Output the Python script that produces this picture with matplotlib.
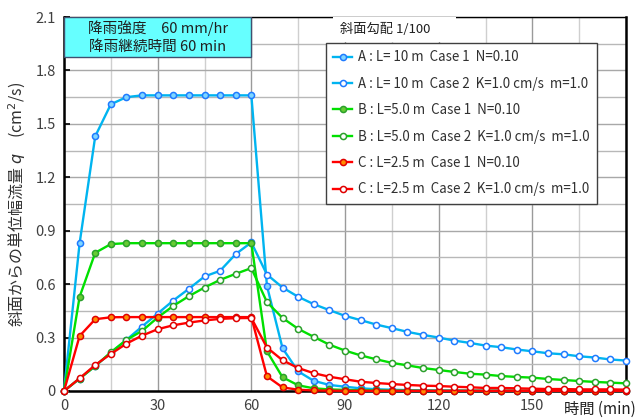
import numpy as np
import matplotlib
matplotlib.use("Agg")
import matplotlib.pyplot as plt
from matplotlib.patches import Rectangle
from matplotlib.ticker import MultipleLocator

plt.rcParams['font.family'] = ['Noto Sans CJK JP', 'DejaVu Sans']
plt.rcParams['mathtext.fontset'] = 'dejavusans'

# ---- data ----
time_min = np.arange(0, 181, 5)

A_case1 = [0.00, 0.83, 1.43, 1.61, 1.65, 1.66, 1.66, 1.66, 1.66, 1.66, 1.66, 1.66, 1.66,
           0.59, 0.24, 0.11, 0.057, 0.034, 0.024, 0.015, 0.010, 0.007, 0.005, 0.004, 0.003,
           0.003, 0.002, 0.002, 0.002, 0.001, 0.001, 0.001, 0.001, 0.001, 0.001, 0.001, 0.001]
A_case2 = [0.00, 0.07, 0.14, 0.215, 0.287, 0.362, 0.435, 0.508, 0.574, 0.643, 0.675, 0.769, 0.834,
           0.654, 0.581, 0.529, 0.4875, 0.454, 0.422, 0.398, 0.373, 0.353, 0.332, 0.315, 0.300,
           0.283, 0.270, 0.255, 0.246, 0.233, 0.223, 0.212, 0.206, 0.195, 0.188, 0.177, 0.171]
B_case1 = [0.00, 0.529, 0.776, 0.825, 0.83, 0.83, 0.83, 0.83, 0.83, 0.83, 0.83, 0.83, 0.83,
           0.223, 0.077, 0.032, 0.015, 0.009, 0.006, 0.004, 0.003, 0.002, 0.002, 0.001, 0.001,
           0.001, 0.001, 0.001, 0.001, 0.001, 0.001, 0.001, 0.001, 0.001, 0.001, 0.001, 0.001]
B_case2 = [0.00, 0.07, 0.14, 0.2175, 0.287, 0.3375, 0.4125, 0.478, 0.5325, 0.581, 0.624, 0.658, 0.69,
           0.499, 0.41, 0.349, 0.304, 0.26, 0.227, 0.200, 0.178, 0.158, 0.144, 0.129, 0.118,
           0.107, 0.097, 0.092, 0.084, 0.079, 0.075, 0.0675, 0.062, 0.056, 0.051, 0.047, 0.043]
C_case1 = [0.00, 0.309, 0.403, 0.414, 0.415, 0.415, 0.415, 0.415, 0.415, 0.415, 0.415, 0.415, 0.415,
           0.0825, 0.020, 0.0075, 0.003, 0.002, 0.001, 0.001, 0.001, 0.001, 0.001, 0.001, 0.001,
           0.001, 0.001, 0.001, 0.001, 0.001, 0.001, 0.001, 0.001, 0.001, 0.001, 0.001, 0.001]
C_case2 = [0.00, 0.071, 0.146, 0.208, 0.266, 0.311, 0.347, 0.369, 0.384, 0.396, 0.405, 0.409, 0.41,
           0.244, 0.1725, 0.129, 0.100, 0.080, 0.066, 0.052, 0.045, 0.039, 0.034, 0.030, 0.028,
           0.024, 0.021, 0.017, 0.017, 0.015, 0.013, 0.011, 0.011, 0.009, 0.009, 0.009, 0.0075]

labels = ["A : L= 10 m  Case 1  N=0.10",
          "A : L= 10 m  Case 2  K=1.0 cm/s  m=1.0",
          "B : L=5.0 m  Case 1  N=0.10",
          "B : L=5.0 m  Case 2  K=1.0 cm/s  m=1.0",
          "C : L=2.5 m  Case 1  N=0.10",
          "C : L=2.5 m  Case 2  K=1.0 cm/s  m=1.0"]

x_ticks = [0, 30, 60, 90, 120, 150]
x_tick_labels = ["0", "30", "60", "90", "120", "150"]
y_ticks = [0, 0.3, 0.6, 0.9, 1.2, 1.5, 1.8, 2.1]
y_tick_labels = ["0", "0.3", "0.6", "0.9", "1.2", "1.5", "1.8", "2.1"]

# ---- figure ----
fig = plt.figure(figsize=(6.41, 4.18), dpi=100)
ax = fig.add_axes([64/641, 1-391/418, 562/641, 374/418])

ax.set_xlim(0, 180)
ax.set_ylim(0, 2.1)

ax.xaxis.set_minor_locator(MultipleLocator(15))
ax.yaxis.set_minor_locator(MultipleLocator(0.15))
ax.set_xticks(x_ticks)
ax.set_xticklabels(x_tick_labels)
ax.set_yticks(y_ticks)
ax.set_yticklabels(y_tick_labels)

ax.grid(which='major', axis='x', color='#9a9a9a', lw=1.0)
ax.grid(which='minor', axis='x', color='#cfcfcf', lw=1.0)
ax.grid(which='major', axis='y', color='#a8a8a8', lw=1.0)
ax.grid(which='minor', axis='y', color='#b8b8b8', lw=1.0)
ax.set_axisbelow(True)

ax.tick_params(which='major', axis='both', direction='in', length=4, width=1.2,
               labelsize=10.5, labelcolor='#404040', pad=6)
ax.tick_params(which='minor', length=0)
ax.tick_params(axis='x', length=0)

for s in ['left', 'bottom', 'right']:
    ax.spines[s].set_linewidth(1.8)
    ax.spines[s].set_color('black')
ax.spines['top'].set_linewidth(1.0)

styles = [
    dict(color='#00b4f0', mec='#1f7bff', mfc='#7fd6ff'),
    dict(color='#00b4f0', mec='#1f7bff', mfc='white'),
    dict(color='#00e000', mec='#2ca02c', mfc='#66cc33'),
    dict(color='#00e000', mec='#2ca02c', mfc='white'),
    dict(color='#ff0000', mec='#e00000', mfc='#ff8c00'),
    dict(color='#ff0000', mec='#e00000', mfc='white'),
]
series = [A_case1, A_case2, B_case1, B_case2, C_case1, C_case2]
handles = []
for y, st, lab in zip(series, styles, labels):
    h, = ax.plot(time_min, y, '-o', lw=1.7, ms=4.4, mew=1.1, label=lab,
                 clip_on=False, zorder=3, **st)
    handles.append(h)

# rainfall box
ax.add_patch(Rectangle((0, 1.877), 60, 2.1-1.877, facecolor='#66ffff',
                       edgecolor='#405070', lw=1.0, zorder=4))
ax.text(30, 2.035, "降雨強度　60 mm/hr", ha='center', va='center', fontsize=10.5,
        color='#202020', zorder=5)
ax.text(30, 1.93, "降雨継続時間 60 min", ha='center', va='center', fontsize=10.5,
        color='#202020', zorder=5)

# legend title area
ax.add_patch(Rectangle((86.3, 1.957), 125.4-86.3, 2.1-1.957, facecolor='white',
                       edgecolor='none', zorder=4))
ax.text(88.5, 2.03, "斜面勾配 1/100", ha='left', va='center', fontsize=9.5,
        color='#202020', zorder=5)

leg = ax.legend(handles=handles, loc='upper left',
                bbox_to_anchor=((326-64)/562, (391-43)/374),
                borderaxespad=0, fontsize=9.6, frameon=True, fancybox=False,
                edgecolor='#404040', framealpha=1, labelspacing=0.93,
                handlelength=1.4, handletextpad=0.45, borderpad=0.55)
leg.get_frame().set_linewidth(1.0)
for t in leg.get_texts():
    t.set_color('#303030')
leg.set_zorder(6)

ax.set_ylabel("斜面からの単位幅流量 $q$　(cm$^2$/s)", fontsize=11.5, color='#303030',
              labelpad=5)
fig.text(636/641, 1-409/418, "時間 (min)", ha='right', va='center',
         fontsize=11, color='#202020')

fig.savefig("out.png", dpi=100)
